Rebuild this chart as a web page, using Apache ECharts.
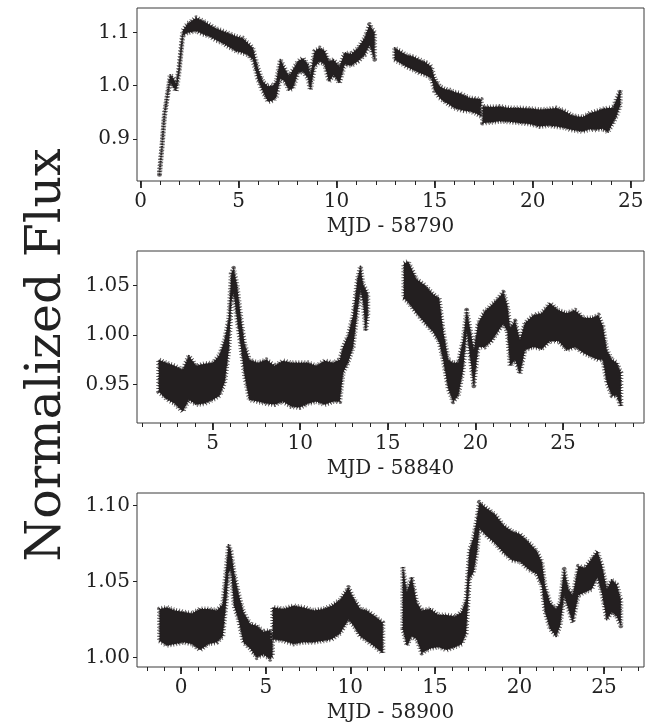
<!DOCTYPE html>
<html>
<head>
<meta charset="utf-8">
<script src="https://cdn.jsdelivr.net/npm/echarts@6/dist/echarts.min.js"></script>
<style>
html,body{margin:0;padding:0;background:#fff;}
#chart{width:664px;height:726px;}
</style>
</head>
<body>
<div id="chart"></div>
<script>
// ---------- data (upper / lower envelope of the noisy light curves) ----------
// null in the x array marks a gap in the time series
const P1_X  = [0.97,1.1,1.22,1.4,1.51,1.62,1.82,1.95,2.16,2.4,2.84,3.2,3.52,3.85,4.2,4.55,4.88,5.2,5.48,5.73,5.99,6.24,6.5,6.75,6.92,7.13,7.35,7.57,7.77,8.03,8.28,8.54,8.66,8.88,9.13,9.39,9.61,9.85,10.15,10.41,10.75,11.09,11.43,11.68,11.94,
  null,
  12.96,13.25,13.56,13.9,14.23,14.55,14.83,15.0,15.26,15.5,15.76,16.0,16.27,16.5,16.78,17.1,17.38,
  null,
  17.45,17.9,18.32,18.8,19.34,19.85,20.36,20.8,21.21,21.6,21.97,22.27,22.57,22.9,23.25,23.55,23.84,24.1,24.3,24.47];
const P1_HI = [0.838,0.89,0.948,0.992,1.02,1.017,1.004,1.03,1.104,1.117,1.128,1.122,1.115,1.108,1.103,1.098,1.093,1.09,1.08,1.071,1.033,1.008,0.999,1.0,1.008,1.049,1.033,1.018,1.03,1.046,1.052,1.04,1.02,1.065,1.071,1.066,1.046,1.049,1.036,1.062,1.06,1.071,1.09,1.115,1.1,
  null,
  1.071,1.065,1.058,1.055,1.049,1.044,1.036,1.014,0.999,0.994,0.992,0.988,0.986,0.982,0.977,0.976,0.974,
  null,
  0.961,0.96,0.961,0.958,0.958,0.957,0.955,0.956,0.958,0.953,0.945,0.942,0.941,0.948,0.952,0.956,0.958,0.958,0.977,0.992];
const P1_LO = [0.833,0.885,0.942,0.985,1.008,1.0,0.99,1.02,1.095,1.1,1.103,1.097,1.093,1.086,1.08,1.072,1.065,1.062,1.058,1.049,1.011,0.989,0.97,0.972,0.978,1.014,1.008,0.992,0.995,1.024,1.027,1.014,0.992,1.036,1.046,1.04,1.008,1.02,1.005,1.04,1.038,1.046,1.058,1.077,1.05,
  null,
  1.049,1.043,1.036,1.03,1.024,1.02,1.014,0.99,0.977,0.97,0.964,0.958,0.955,0.953,0.952,0.948,0.942,
  null,
  0.930,0.931,0.933,0.932,0.930,0.928,0.923,0.925,0.923,0.921,0.917,0.915,0.914,0.918,0.917,0.919,0.913,0.93,0.945,0.964];

const P2_X  = [1.93,2.35,2.83,3.3,3.65,4.07,4.54,5.02,5.4,5.69,5.93,6.07,6.2,6.39,6.64,6.83,7.1,7.59,8.07,8.54,9.02,9.5,9.97,10.45,10.92,11.4,11.88,12.26,12.45,12.73,13.02,13.27,13.44,13.59,13.74,13.86,
  null,
  15.92,16.16,16.64,17.12,17.59,17.93,18.16,18.45,18.73,19.02,19.3,19.5,19.72,19.91,20.16,20.54,20.92,21.3,21.59,21.82,21.98,22.26,22.54,22.83,23.31,23.78,24.26,24.73,25.21,25.69,26.17,26.64,27.02,27.27,27.5,27.79,28.07,28.3];
const P2_HI = [0.975,0.972,0.969,0.965,0.979,0.969,0.971,0.972,0.980,0.995,1.017,1.062,1.067,1.051,1.014,0.991,0.975,0.972,0.975,0.969,0.974,0.972,0.972,0.972,0.969,0.974,0.972,0.975,0.988,0.999,1.020,1.056,1.069,1.051,1.046,1.041,
  null,
  1.072,1.074,1.056,1.050,1.041,1.037,1.004,0.975,0.972,0.972,0.995,1.025,1.004,0.985,1.012,1.024,1.030,1.037,1.043,1.030,1.007,1.014,0.995,1.012,1.020,1.022,1.032,1.025,1.022,1.025,1.017,1.017,1.020,1.009,0.985,0.975,0.972,0.962];
const P2_LO = [0.943,0.936,0.931,0.923,0.935,0.930,0.931,0.935,0.939,0.952,0.985,1.033,1.043,1.017,0.985,0.959,0.935,0.933,0.931,0.930,0.933,0.928,0.927,0.931,0.933,0.930,0.933,0.933,0.962,0.972,0.988,1.024,1.046,1.033,1.004,1.020,
  null,
  1.037,1.033,1.022,1.012,1.003,0.993,0.975,0.946,0.933,0.939,0.965,1.004,0.975,0.949,0.988,0.988,0.994,1.004,1.011,1.004,0.969,0.975,0.961,0.985,0.988,0.986,0.994,0.994,0.985,0.988,0.982,0.978,0.975,0.975,0.952,0.939,0.939,0.928];

const P3_X  = [-1.28,-0.85,-0.35,0.14,0.63,1.12,1.62,2.11,2.46,2.66,2.8,2.94,3.13,3.39,3.68,4.08,4.47,4.87,5.26,5.4,
  null,
  5.42,6.05,6.64,7.23,7.82,8.41,8.9,9.4,9.89,10.19,10.58,10.97,11.47,11.92,
  null,
  13.1,13.34,13.63,13.93,14.22,14.72,15.21,15.7,16.19,16.59,16.84,17.04,17.28,17.48,17.63,18.07,18.56,19.05,19.55,20.04,20.53,21.02,21.32,21.51,21.81,22.16,22.4,22.64,22.89,23.15,23.48,23.87,24.27,24.6,24.86,25.16,25.45,25.75,25.99];
const P3_HI = [1.032,1.033,1.031,1.030,1.029,1.032,1.032,1.031,1.035,1.058,1.074,1.070,1.056,1.042,1.030,1.022,1.021,1.017,1.018,1.015,
  null,
  1.033,1.032,1.034,1.033,1.031,1.032,1.034,1.038,1.046,1.039,1.032,1.031,1.027,1.023,
  null,
  1.060,1.043,1.053,1.036,1.031,1.032,1.028,1.028,1.027,1.030,1.038,1.070,1.079,1.091,1.102,1.098,1.094,1.087,1.083,1.081,1.076,1.070,1.063,1.047,1.036,1.032,1.036,1.058,1.045,1.041,1.060,1.059,1.065,1.070,1.061,1.045,1.051,1.048,1.038];
const P3_LO = [1.011,1.008,1.009,1.010,1.009,1.005,1.009,1.010,1.014,1.036,1.056,1.058,1.034,1.025,1.010,1.006,1.000,1.002,0.999,1.001,
  null,
  1.012,1.011,1.009,1.010,1.010,1.011,1.012,1.016,1.025,1.021,1.014,1.011,1.007,1.003,
  null,
  1.019,1.008,1.014,1.012,1.003,1.006,1.007,1.005,1.007,1.009,1.016,1.052,1.056,1.069,1.085,1.080,1.075,1.069,1.064,1.063,1.058,1.055,1.047,1.030,1.019,1.014,1.021,1.041,1.032,1.023,1.041,1.043,1.045,1.053,1.043,1.025,1.030,1.027,1.021];

// axis labels / ticks
const X_NAMES = ['MJD - 58790', 'MJD - 58840', 'MJD - 58900'];
const Y_NAME = 'Normalized Flux';
const X_MAJOR = [[0,5,10,15,20,25],[5,10,15,20,25],[0,5,10,15,20,25]];
const X_MINOR = [
  [0,1,2,3,4,5,6,7,8,9,10,11,12,13,14,15,16,17,18,19,20,21,22,23,24,25],
  [1,2,3,4,5,6,7,8,9,10,11,12,13,14,15,16,17,18,19,20,21,22,23,24,25,26,27,28,29],
  [-2,-1,0,1,2,3,4,5,6,7,8,9,10,11,12,13,14,15,16,17,18,19,20,21,22,23,24,25,26,27]
];
const Y_TICKS = [[0.9,1.0,1.1],[0.95,1.00,1.05],[1.00,1.05,1.10]];
const Y_DEC = [1,2,2];
const X_RANGE = [[-0.18,25.68],[0.69,29.62],[-2.61,27.36]];
const Y_RANGE = [[0.8205,1.1465],[0.9115,1.0845],[0.9938,1.1082]];

// ---------- build ----------
const FONT = 'DejaVu Serif';
const TXT = '#222';
const GRIDS = [{top:8,height:173},{top:251,height:172},{top:493,height:174}];

function segments(xs, his, los){
  const out = []; let cur = {x:[],hi:[],lo:[]};
  for (let i=0;i<xs.length;i++){
    if (xs[i]===null){ if(cur.x.length) out.push(cur); cur={x:[],hi:[],lo:[]}; continue; }
    cur.x.push(xs[i]); cur.hi.push(his[i]); cur.lo.push(los[i]);
  }
  if (cur.x.length) out.push(cur);
  return out;
}
const PANELS = [segments(P1_X,P1_HI,P1_LO), segments(P2_X,P2_HI,P2_LO), segments(P3_X,P3_HI,P3_LO)];

const grid=[], xAxis=[], yAxis=[], series=[];
for (let p=0;p<3;p++){
  grid.push({left:137, right:20, top:GRIDS[p].top, height:GRIDS[p].height, show:true,
             borderColor:'#3a3a3a', borderWidth:1, backgroundColor:'transparent', containLabel:false});
  xAxis.push({type:'value', gridIndex:p, min:X_RANGE[p][0], max:X_RANGE[p][1], position:'bottom',
    axisLine:{show:false, onZero:false}, splitLine:{show:false},
    axisTick:{show:true, inside:false, length:7, customValues:X_MAJOR[p], lineStyle:{color:'#222', width:1.8}},
    axisLabel:{show:true, customValues:X_MAJOR[p], margin:11, fontFamily:FONT, fontSize:20, color:TXT,
               formatter:(v)=>String(Math.round(v))},
    name:X_NAMES[p], nameLocation:'middle', nameGap:36,
    nameTextStyle:{fontFamily:FONT, fontSize:20, color:TXT}});
  xAxis.push({type:'value', gridIndex:p, min:X_RANGE[p][0], max:X_RANGE[p][1], position:'bottom',
    axisLine:{show:false, onZero:false}, splitLine:{show:false},
    axisTick:{show:true, inside:false, length:4, customValues:X_MINOR[p], lineStyle:{color:'#222', width:1}},
    axisLabel:{show:false}});
  const dec = Y_DEC[p];
  yAxis.push({type:'value', gridIndex:p, min:Y_RANGE[p][0], max:Y_RANGE[p][1], position:'left',
    axisLine:{show:false, onZero:false}, splitLine:{show:false},
    axisTick:{show:true, inside:false, length:4, customValues:Y_TICKS[p], lineStyle:{color:'#222', width:1}},
    axisLabel:{show:true, customValues:Y_TICKS[p], margin:7, fontFamily:FONT, fontSize:20, color:TXT,
               formatter:(v)=>v.toFixed(dec)}});
  const segs = PANELS[p];
  series.push({type:'custom', xAxisIndex:2*p, yAxisIndex:p, silent:true, animation:false,
    data: segs.map((s,i)=>[s.x[0], s.lo[0], i]),
    renderItem:(params, api)=>{
      const s = segs[params.dataIndex];
      const pts = [];
      for (let i=0;i<s.x.length;i++) pts.push(api.coord([s.x[i], s.lo[i]]));
      for (let i=s.x.length-1;i>=0;i--) pts.push(api.coord([s.x[i], s.hi[i]]));
      return {type:'group', children:[
        {type:'polygon', shape:{points:pts},
         style:{fill:'none', stroke:'#6a6768', lineWidth:5, lineDash:[1,2], lineJoin:'round'}},
        {type:'polygon', shape:{points:pts},
         style:{fill:'#231f20', stroke:'#231f20', lineWidth:2, lineDash:[1,1.5], lineJoin:'round'}}
      ]};
    }});
}

const chart = echarts.init(document.getElementById('chart'), null, {renderer:'canvas'});
chart.setOption({
  animation:false,
  backgroundColor:'#ffffff',
  grid, xAxis, yAxis, series,
  graphic:[{type:'text', x:47, y:355, rotation:Math.PI/2,
    style:{text:Y_NAME, font:'49px "DejaVu Serif"', fill:TXT, align:'center', verticalAlign:'middle'}}]
});
</script>
</body>
</html>
